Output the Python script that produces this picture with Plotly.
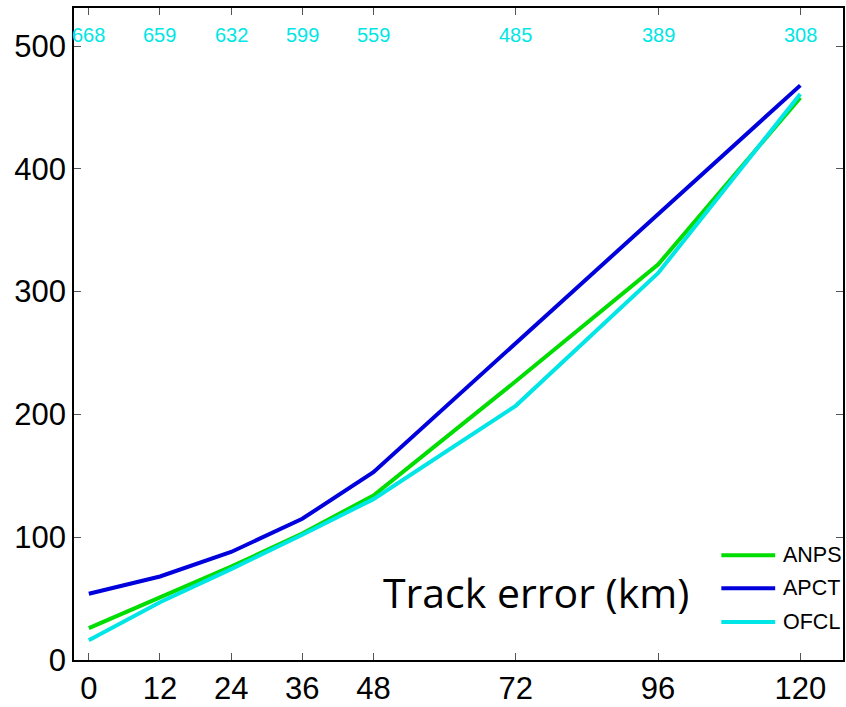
import plotly.graph_objects as go

lead_times = [0, 12, 24, 36, 48, 72, 96, 120]
case_counts = ["668", "659", "632", "599", "559", "485", "389", "308"]
y_ticks = [0, 100, 200, 300, 400, 500]

anps = [26, 51, 76, 103, 134, 227, 322, 458]
apct = [54, 68, 88, 115, 153, 258, 364, 468]
ofcl = [16, 47, 74, 102, 131, 207, 315, 461]

series_names = ["ANPS", "APCT", "OFCL"]
series_values = [anps, apct, ofcl]
series_colors = ["#00DD00", "#0000DD", "#00E5E5"]

title_text = "Track error (km)"

fig = go.Figure()
for name, vals, col in zip(series_names, series_values, series_colors):
    fig.add_trace(go.Scatter(x=lead_times, y=vals, mode="lines", name=name,
                             line=dict(color=col, width=4), showlegend=False))

# case counts along top
for xv, lab in zip(lead_times, case_counts):
    fig.add_annotation(x=xv, y=0.9587, xref="x", yref="paper", text=lab,
                       showarrow=False, xanchor="center", yanchor="middle",
                       font=dict(family="Liberation Sans, Arial", size=20, color="#00E5E5"))

# custom legend
leg_y = [0.1606, 0.1101, 0.0581]
for name, col, ly in zip(series_names, series_colors, leg_y):
    fig.add_shape(type="line", xref="paper", yref="paper", x0=0.8418, x1=0.9118,
                  y0=ly, y1=ly, line=dict(color=col, width=4))
    fig.add_annotation(x=0.9196, y=ly, xref="paper", yref="paper", text=name,
                       showarrow=False, xanchor="left", yanchor="middle",
                       font=dict(family="Liberation Sans, Arial", size=21.5, color="black"))

fig.add_annotation(x=0.601, y=0.104, xref="paper", yref="paper", text=title_text,
                   showarrow=False, xanchor="center", yanchor="middle",
                   font=dict(family="Open Sans, Noto Sans", size=41, color="black"))

fig.update_layout(
    width=846, height=707,
    margin=dict(l=74, r=1, t=8, b=45),
    plot_bgcolor="white", paper_bgcolor="white",
    font=dict(family="Liberation Sans, Arial", size=31, color="black"),
)
fig.update_xaxes(range=[-2.5, 127.2], tickvals=lead_times, ticktext=[str(v) for v in lead_times],
                 showgrid=False, zeroline=False, showline=True, linecolor="black", linewidth=1.5,
                 mirror="allticks", ticks="inside", ticklen=7, tickcolor="#555555", tickwidth=1.2,
                 tickfont=dict(size=31))
fig.update_yaxes(range=[0, 531], tickvals=y_ticks, showgrid=False, zeroline=False,
                 showline=True, linecolor="black", linewidth=1.5,
                 mirror="allticks", ticks="inside", ticklen=7, tickcolor="#555555", tickwidth=1.2,
                 tickfont=dict(size=31))

fig.write_html("out.html", config={"displayModeBar": False},
               post_script="document.body.style.margin='0';document.body.style.overflow='hidden';")
